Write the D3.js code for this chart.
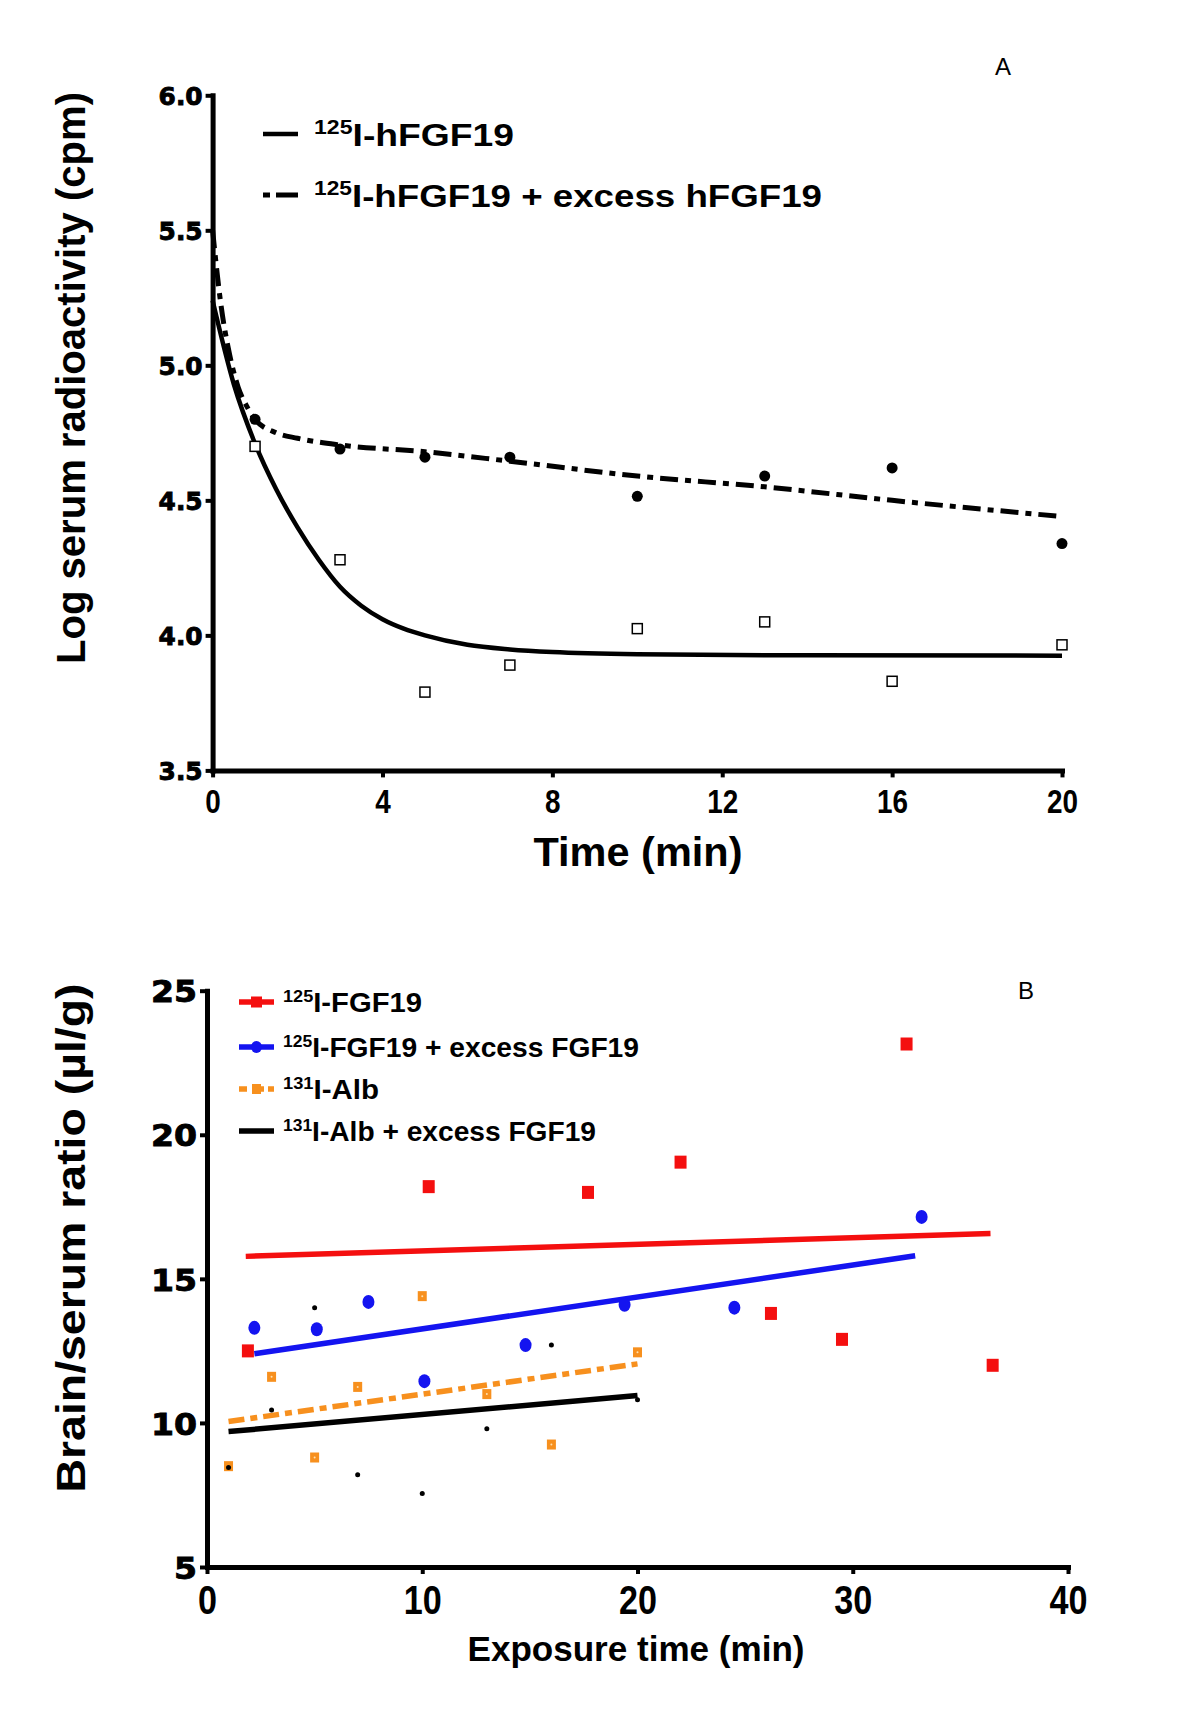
<!DOCTYPE html>
<html><head><meta charset="utf-8">
<script src="https://cdn.jsdelivr.net/npm/d3@7"></script>
<style>
body{margin:0;background:#fff}
svg{display:block}
</style>
</head><body>
<svg id="c" width="1200" height="1719" font-family="Liberation Sans, Arial, sans-serif" font-weight="bold"></svg>
<script>
// ---------- Panel A data ----------
const timeA = [1, 3, 5, 7, 10, 13, 16, 20];
const hfgfA = [4.70, 4.28, 3.79, 3.89, 4.025, 4.05, 3.83, 3.965];
const hfgfExcessA = [4.80, 4.69, 4.66, 4.66, 4.515, 4.59, 4.62, 4.34];
const fitSolidT = [0, 0.5, 1, 1.5, 2, 2.5, 3, 3.5, 4, 4.5, 5, 6, 7, 8, 10, 14, 20];
const fitSolidY = [5.24, 4.93, 4.71, 4.54, 4.40, 4.28, 4.18, 4.11, 4.06, 4.025, 4.0, 3.965, 3.948, 3.938, 3.93, 3.926, 3.925];
const fitDashT = [0, 0.2, 0.4, 0.6, 0.8, 1, 1.5, 2, 3, 5, 7, 10, 13, 16, 20];
const fitDashY = [5.50, 5.22, 5.04, 4.92, 4.85, 4.80, 4.75, 4.73, 4.705, 4.68, 4.645, 4.59, 4.55, 4.50, 4.44];
const ticksAX = [0, 4, 8, 12, 16, 20];
const ticksAY = [3.5, 4.0, 4.5, 5.0, 5.5, 6.0];

// ---------- Panel B data ----------
const fgfT = [1.9, 10.3, 17.7, 22.0, 26.2, 29.5, 32.5, 36.5];
const fgfV = [12.5, 18.2, 18.0, 19.05, 13.8, 12.9, 23.15, 12.0];
const fgfExT = [2.2, 5.1, 7.5, 10.1, 14.8, 19.4, 24.5, 33.2];
const fgfExV = [13.3, 13.25, 14.2, 11.45, 12.7, 14.1, 14.0, 17.15];
const albT = [1, 3, 5, 7, 10, 13, 16, 20];
const albV = [8.5, 11.6, 8.8, 11.25, 14.4, 11.0, 9.25, 12.45];
const albExT = [1, 3, 5, 7, 10, 13, 16, 20];
const albExV = [8.45, 10.45, 14.0, 8.2, 7.55, 9.8, 12.7, 10.8];
const fgfLineT = [1.8, 36.4], fgfLineV = [15.78, 16.57];
const fgfExLineT = [2.2, 32.9], fgfExLineV = [12.4, 15.8];
const albLineT = [1, 20], albLineV = [10.05, 12.05];
const albExLineT = [1, 20], albExLineV = [9.7, 10.95];
const ticksBX = [0, 10, 20, 30, 40];
const ticksBY = [5, 10, 15, 20, 25];

const svg = d3.select("#c");
const zip = (a, b) => a.map((v, i) => [v, b[i]]);

function styleAxis(g){
  g.attr("font-family",null).attr("font-size",null);
  g.select(".domain").attr("stroke","#000").attr("stroke-width",5).attr("stroke-linecap","square");
  g.selectAll(".tick line").attr("stroke","#000").attr("stroke-width",4);
  g.selectAll(".tick text").attr("fill","#000");
}

// ================= PANEL A =================
const xA = d3.scaleLinear().domain([0,20]).range([212.6,1062]);
const yA = d3.scaleLinear().domain([3.5,6.0]).range([770.4,95.3]);

const gAy = svg.append("g").attr("transform",`translate(${xA(0)},0)`)
  .call(d3.axisLeft(yA).tickValues(ticksAY).tickSize(7).tickSizeOuter(0).tickPadding(3).tickFormat(d3.format(".1f")));
styleAxis(gAy);
gAy.selectAll(".tick text").style("font-family","DejaVu Sans").style("font-weight","bold")
  .style("font-size","25px").attr("dy","0.36em").attr("textLength",44).attr("lengthAdjust","spacingAndGlyphs")
  .attr("stroke","#000").attr("stroke-width",0.9);

const gAx = svg.append("g").attr("transform",`translate(0,${yA(3.5)})`)
  .call(d3.axisBottom(xA).tickValues(ticksAX).tickSize(7).tickSizeOuter(0).tickFormat(d3.format("d")));
styleAxis(gAx);
gAx.selectAll(".tick text").style("font-size","33px").attr("y",19).attr("dy","0.71em")
  .attr("textLength",d=>String(d).length*15.5).attr("lengthAdjust","spacingAndGlyphs");

// fitted curves
const lineA = d3.line().x(d=>xA(d[0])).y(d=>yA(d[1])).curve(d3.curveMonotoneX);
svg.append("path").attr("d",lineA(zip(fitSolidT,fitSolidY)))
  .attr("fill","none").attr("stroke","#000").attr("stroke-width",4.5);
svg.append("path").attr("d",lineA(zip(fitDashT,fitDashY)))
  .attr("fill","none").attr("stroke","#000").attr("stroke-width",5)
  .attr("stroke-dasharray","18,7,6,7");

// points
svg.append("g").selectAll("rect").data(zip(timeA,hfgfA)).join("rect")
  .attr("x",d=>xA(d[0])-5).attr("y",d=>yA(d[1])-5).attr("width",10).attr("height",10)
  .attr("fill","#fff").attr("stroke","#000").attr("stroke-width",1.5);
svg.append("g").selectAll("circle").data(zip(timeA,hfgfExcessA)).join("circle")
  .attr("cx",d=>xA(d[0])).attr("cy",d=>yA(d[1])).attr("r",5.5).attr("fill","#000");

// titles
svg.append("text").attr("x",638).attr("y",866).attr("text-anchor","middle")
  .attr("font-size",40).attr("textLength",209).attr("lengthAdjust","spacingAndGlyphs").text("Time (min)");
svg.append("text").attr("transform","translate(85,378) rotate(-90)").attr("text-anchor","middle")
  .attr("font-size",40).attr("textLength",572).attr("lengthAdjust","spacingAndGlyphs")
  .text("Log serum radioactivity (cpm)");
svg.append("text").attr("x",1003).attr("y",75).attr("text-anchor","middle")
  .attr("font-size",24).attr("font-weight","normal").text("A");

// legend A
function supText(sel, x, y, sup, rest, size, len){
  const t = sel.append("text").attr("x",x).attr("y",y).attr("font-size",size);
  if(len) t.attr("textLength",len).attr("lengthAdjust","spacingAndGlyphs");
  t.append("tspan").attr("font-size",size*0.62).attr("dy",-size*0.36).text(sup);
  t.append("tspan").attr("dy",size*0.36).text(rest);
  return t;
}
svg.append("line").attr("x1",263).attr("x2",298).attr("y1",134).attr("y2",134)
  .attr("stroke","#000").attr("stroke-width",4.5);
svg.append("line").attr("x1",263).attr("x2",298).attr("y1",195).attr("y2",195)
  .attr("stroke","#000").attr("stroke-width",5).attr("stroke-dasharray","7,6,22");
supText(svg,314,146,"125","I-hFGF19",32,200);
supText(svg,314,207,"125","I-hFGF19 + excess hFGF19",32,508);

// ================= PANEL B =================
const xB = d3.scaleLinear().domain([0,40]).range([207,1068]);
const yB = d3.scaleLinear().domain([5,25]).range([1567,990.7]);

const gBy = svg.append("g").attr("transform",`translate(${xB(0)},0)`)
  .call(d3.axisLeft(yB).tickValues(ticksBY).tickSize(7).tickSizeOuter(0).tickPadding(3).tickFormat(d3.format("d")));
styleAxis(gBy);
gBy.selectAll(".tick text").style("font-family","DejaVu Sans").style("font-weight","bold")
  .style("font-size","31px").attr("dy","0.36em")
  .attr("textLength",d=>String(d).length*23).attr("lengthAdjust","spacingAndGlyphs")
  .attr("stroke","#000").attr("stroke-width",0.9);

const gBx = svg.append("g").attr("transform",`translate(0,${yB(5)})`)
  .call(d3.axisBottom(xB).tickValues(ticksBX).tickSize(7).tickSizeOuter(0).tickFormat(d3.format("d")));
styleAxis(gBx);
gBx.selectAll(".tick text").style("font-size","40px").attr("y",19).attr("dy","0.71em")
  .attr("textLength",d=>String(d).length*19).attr("lengthAdjust","spacingAndGlyphs");

const RED="#f40f0f", BLUE="#1414f0", ORANGE="#f7901e";
const lineB = d3.line().x(d=>xB(d[0])).y(d=>yB(d[1]));
function regLine(t,v,color,dash){
  const p = svg.append("path").attr("d",lineB(zip(t,v))).attr("fill","none")
    .attr("stroke",color).attr("stroke-width",5.5);
  if(dash) p.attr("stroke-dasharray",dash);
}
regLine(fgfLineT,fgfLineV,RED);
regLine(fgfExLineT,fgfExLineV,BLUE);
regLine(albLineT,albLineV,ORANGE,"16,6,7,6");
regLine(albExLineT,albExLineV,"#000");

// points
svg.append("g").selectAll("rect").data(zip(fgfT,fgfV)).join("rect")
  .attr("x",d=>xB(d[0])-6).attr("y",d=>yB(d[1])-6.5).attr("width",12).attr("height",13).attr("fill",RED);
svg.append("g").selectAll("ellipse").data(zip(fgfExT,fgfExV)).join("ellipse")
  .attr("cx",d=>xB(d[0])).attr("cy",d=>yB(d[1])).attr("rx",6).attr("ry",7).attr("fill",BLUE);
const gAlb = svg.append("g").selectAll("g").data(zip(albT,albV)).join("g");
gAlb.append("rect").attr("x",d=>xB(d[0])-4.5).attr("y",d=>yB(d[1])-5).attr("width",9).attr("height",10).attr("fill",ORANGE);
gAlb.append("circle").attr("cx",d=>xB(d[0])).attr("cy",d=>yB(d[1])).attr("r",1).attr("fill","#ffe0b0");
svg.append("g").selectAll("circle").data(zip(albExT,albExV)).join("circle")
  .attr("cx",d=>xB(d[0])).attr("cy",d=>yB(d[1])).attr("r",2.5).attr("fill","#000");

// titles
svg.append("text").attr("x",636).attr("y",1661).attr("text-anchor","middle")
  .attr("font-size",35).attr("textLength",337).attr("lengthAdjust","spacingAndGlyphs").text("Exposure time (min)");
svg.append("text").attr("transform","translate(85,1238) rotate(-90)").attr("text-anchor","middle")
  .attr("font-size",40).attr("textLength",509).attr("lengthAdjust","spacingAndGlyphs")
  .text("Brain/serum ratio (\u00b5l/g)");
svg.append("text").attr("x",1026).attr("y",999).attr("text-anchor","middle")
  .attr("font-size",24).attr("font-weight","normal").text("B");

// legend B
const legB = [
  {sup:"125", rest:"I-FGF19", color:RED, y:1002, len:139, mark:"square"},
  {sup:"125", rest:"I-FGF19 + excess FGF19", color:BLUE, y:1047, len:356, mark:"circle"},
  {sup:"131", rest:"I-Alb", color:ORANGE, y:1089, len:96, mark:"osquare", dash:"8,5,12,4,8"},
  {sup:"131", rest:"I-Alb + excess FGF19", color:"#000", y:1131, len:313, mark:"none"}
];
legB.forEach(d=>{
  const l = svg.append("line").attr("x1",239).attr("x2",274).attr("y1",d.y).attr("y2",d.y)
    .attr("stroke",d.color).attr("stroke-width",5.5);
  if(d.dash) l.attr("stroke-dasharray",d.dash);
  if(d.mark==="square") svg.append("rect").attr("x",251).attr("y",d.y-5.5).attr("width",11).attr("height",11).attr("fill",d.color);
  if(d.mark==="circle") svg.append("ellipse").attr("cx",256.5).attr("cy",d.y).attr("rx",5.5).attr("ry",6).attr("fill",d.color);
  if(d.mark==="osquare") svg.append("rect").attr("x",252).attr("y",d.y-5).attr("width",9).attr("height",10).attr("fill",d.color);
  supText(svg,283,d.y+10,d.sup,d.rest,27,d.len);
});
</script>
</body></html>
